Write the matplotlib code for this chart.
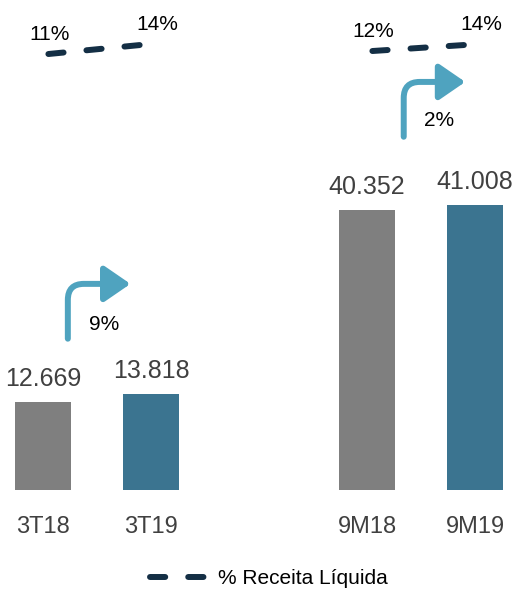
import matplotlib
matplotlib.use("Agg")
import matplotlib.pyplot as plt
from matplotlib.lines import Line2D

plt.rcParams['font.family'] = ['Liberation Sans', 'DejaVu Sans']

periods = ['3T18', '3T19', '9M18', '9M19']
positions = [0, 1, 3, 4]
values = [12.669, 13.818, 40.352, 41.008]
value_labels = ['12.669', '13.818', '40.352', '41.008']
margin_pct = [11, 14, 12, 14]
growth = ['9%', '2%']

bar_colors = ['#7f7f7f', '#3b7490', '#7f7f7f', '#3b7490']
line_color = '#142f45'
arrow_color = '#4fa3bf'

# arrow placement (start / tip) in bar-axis units
arrow_start = [(0.23, 21.8), (3.34, 50.9)]
arrow_tip = [(0.81, 29.7), (3.91, 58.8)]
growth_pos = [(0.565, 23.9), (3.667, 53.2)]

fig = plt.figure(figsize=(5.2, 5.91), dpi=100)
ax = fig.add_axes([0, 101 / 591, 1, 490 / 591])
ax.bar(positions, values, width=0.51, color=bar_colors)
ax.set_xlim(-43 / 108, 477 / 108)
ax.set_ylim(0, 490 / 6.94)

for x, v, lab in zip(positions, values, value_labels):
    ax.text(x, v + 2.3, lab, ha='center', va='baseline', fontsize=18, color='#404040')

ax.set_xticks(positions)
ax.set_xticklabels(periods, fontsize=17, color='#404040')
ax.tick_params(axis='x', length=0, pad=19)
ax.set_yticks([])
for s in ax.spines.values():
    s.set_visible(False)

# growth arrows
for s, t, g, gp in zip(arrow_start, arrow_tip, growth, growth_pos):
    ax.annotate('', xy=t, xytext=s,
                arrowprops=dict(arrowstyle='-|>,head_length=0.8,head_width=0.55',
                                connectionstyle='angle,angleA=90,angleB=0,rad=16',
                                color=arrow_color, lw=4.3, mutation_scale=20,
                                shrinkA=0, shrinkB=0))
    ax.text(gp[0], gp[1], g, ha='center', va='center', fontsize=15)

# margin line on its own scale
ax2 = ax.twinx()
ax2.set_ylim(-134.3, 29.0)
ax2.axis('off')
dash = (2.55, 3.85)
for i in range(2):
    xs = [positions[2 * i] + 0.05, positions[2 * i + 1] - 0.1]
    ys = margin_pct[2 * i:2 * i + 2]
    ax2.plot(xs, ys, color=line_color, lw=4.3, dashes=dash, dash_capstyle='round')
    ax2.text(xs[0] + 0.01, ys[0] + 6.6, f'{ys[0]}%', ha='center', va='center', fontsize=15)
    ax2.text(xs[1] + 0.16, ys[1] + 6.8, f'{ys[1]}%', ha='center', va='center', fontsize=15)

handle = Line2D([], [], color=line_color, lw=4.3, dashes=dash, dash_capstyle='round')
fig.legend([handle], ['% Receita Líquida'], loc='center', bbox_to_anchor=(0.517, 12 / 591),
           frameon=False, fontsize=15, handlelength=2.75, handletextpad=0.5)

fig.savefig('out.png', dpi=100)
